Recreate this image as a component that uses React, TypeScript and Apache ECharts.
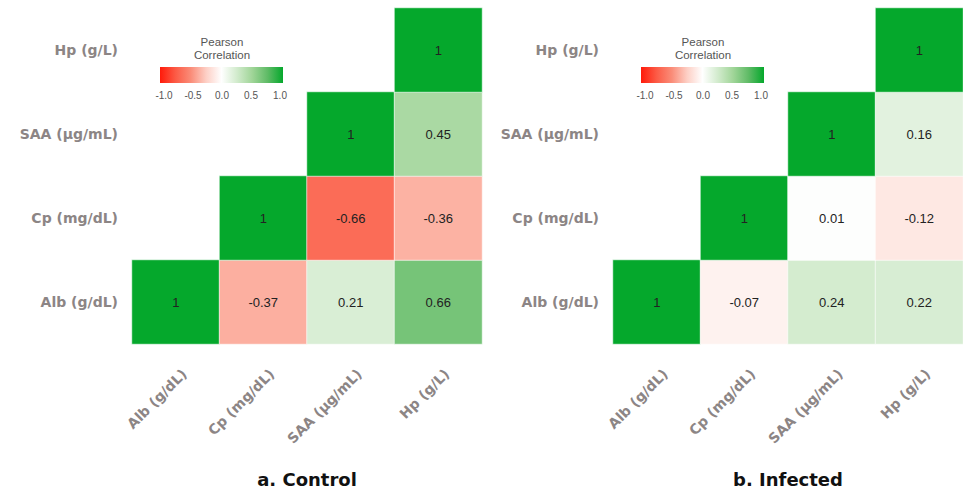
import React, { useEffect, useRef } from "react";
import * as echarts from "echarts";

const variables = ["Alb (g/dL)", "Cp (mg/dL)", "SAA (µg/mL)", "Hp (g/L)"];

// each row: correlations of the row variable with Alb, Cp, SAA, Hp (null = not drawn)
const controlAlb = [1, -0.37, 0.21, 0.66];
const controlCp = [null, 1, -0.66, -0.36];
const controlSAA = [null, null, 1, 0.45];
const controlHp = [null, null, null, 1];

const infectedAlb = [1, -0.07, 0.24, 0.22];
const infectedCp = [null, 1, 0.01, -0.12];
const infectedSAA = [null, null, 1, 0.16];
const infectedHp = [null, null, null, 1];

const panelTitles = ["a. Control", "b. Infected"];
const legendTitleLines = ["Pearson", "Correlation"];
const legendTicks = ["-1.0", "-0.5", "0.0", "0.5", "1.0"];

const scaleColors = [
  "#ff1a0a",
  "#fc5a45",
  "#fa8c78",
  "#fdcfc5",
  "#ffffff",
  "#d2ebcd",
  "#a0d598",
  "#5fbb66",
  "#05a82c",
];

function toCells(rows: (number | null)[][]) {
  const out: [number, number, number][] = [];
  rows.forEach((row, y) => {
    row.forEach((v, x) => {
      if (v !== null) out.push([x, y, v]);
    });
  });
  return out;
}

const axisLabelColor = "#8c8585";

export default function App() {
  const ref = useRef<HTMLDivElement>(null);
  useEffect(() => {
    if (!ref.current) return;
    const chart = echarts.init(ref.current, undefined, { renderer: "svg" });
    const grids = [
      { left: 132, top: 8, width: 350, height: 336 },
      { left: 613, top: 8, width: 350, height: 336 },
    ];
    const legendX = [160, 641];
    const gradient = {
      type: "linear",
      x: 0,
      y: 0,
      x2: 1,
      y2: 0,
      colorStops: scaleColors.map((c, i) => ({ offset: i / (scaleColors.length - 1), color: c })),
    };
    const graphics: any[] = [];
    grids.forEach((g, i) => {
      const lx = legendX[i];
      legendTitleLines.forEach((line, k) => {
        graphics.push({
          type: "text",
          x: lx + 62,
          y: 42 + k * 13,
          style: {
            text: line,
            fill: "#555",
            font: "11.5px 'Liberation Sans', Arial, sans-serif",
            align: "center",
            verticalAlign: "middle",
          },
        });
      });
      graphics.push({
        type: "rect",
        x: lx,
        y: 67,
        shape: { width: 123, height: 16 },
        style: { fill: gradient as any },
      });
      legendTicks.forEach((t, k) => {
        graphics.push({
          type: "text",
          x: lx + 4 + k * 29,
          y: 95,
          style: {
            text: t,
            fill: "#555",
            font: "10px 'Liberation Sans', Arial, sans-serif",
            align: "center",
            verticalAlign: "middle",
          },
        });
      });
      graphics.push({
        type: "text",
        x: g.left + g.width / 2,
        y: 479,
        style: {
          text: panelTitles[i],
          fill: "#111",
          font: "bold 18px 'DejaVu Sans', Verdana, sans-serif",
          align: "center",
          verticalAlign: "middle",
        },
      });
    });

    const xAxes = grids.map((_, i) => ({
      type: "category",
      gridIndex: i,
      data: variables,
      axisLine: { show: false },
      axisTick: { show: false },
      splitLine: { show: false },
      axisLabel: {
        rotate: 45,
        margin: 19,
        align: "right",
        verticalAlign: "top",
        lineHeight: 24,
        color: axisLabelColor,
        fontWeight: "bold",
        fontSize: 14,
        fontFamily: "'DejaVu Sans', Verdana, sans-serif",
        interval: 0,
      },
    }));
    const yAxes = grids.map((_, i) => ({
      type: "category",
      gridIndex: i,
      data: variables,
      axisLine: { show: false },
      axisTick: { show: false },
      splitLine: { show: false },
      axisLabel: {
        margin: 14,
        color: axisLabelColor,
        fontWeight: "bold",
        fontSize: 14,
        fontFamily: "'DejaVu Sans', Verdana, sans-serif",
        interval: 0,
      },
    }));
    const seriesData = [
      toCells([controlAlb, controlCp, controlSAA, controlHp]),
      toCells([infectedAlb, infectedCp, infectedSAA, infectedHp]),
    ];
    chart.setOption({
      animation: false,
      backgroundColor: "#ffffff",
      grid: grids,
      xAxis: xAxes,
      yAxis: yAxes,
      visualMap: {
        show: false,
        type: "continuous",
        min: -1,
        max: 1,
        dimension: 2,
        seriesIndex: [0, 1],
        inRange: { color: scaleColors },
      },
      graphic: graphics,
      series: seriesData.map((d, i) => ({
        type: "heatmap",
        xAxisIndex: i,
        yAxisIndex: i,
        data: d,
        itemStyle: { borderColor: "rgba(255,255,255,0.6)", borderWidth: 1 },
        emphasis: { disabled: true },
        label: {
          show: true,
          color: "#222",
          fontSize: 13,
          fontFamily: "'Liberation Sans', Arial, sans-serif",
          formatter: (p: any) => String(p.value[2]),
        },
      })),
    });
    return () => chart.dispose();
  }, []);
  return (
    <div
      ref={ref}
      style={{ position: "fixed", left: 0, top: 0, width: 963, height: 493, background: "#fff" }}
    />
  );
}
